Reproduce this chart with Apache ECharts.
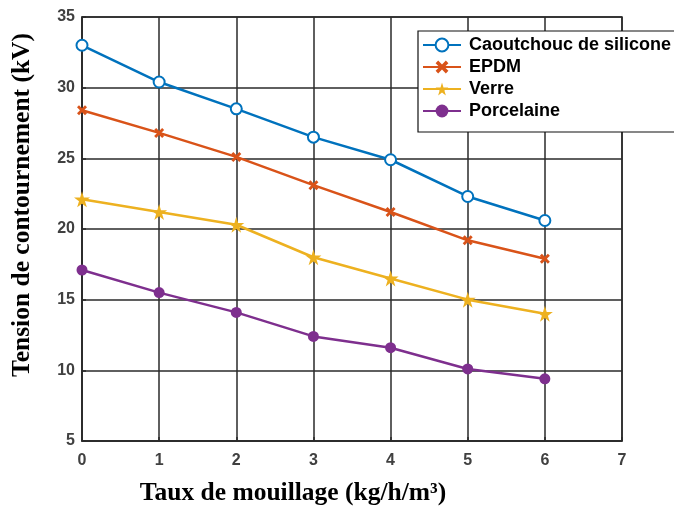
<!DOCTYPE html>
<html>
<head>
<meta charset="utf-8">
<script src="https://cdn.jsdelivr.net/npm/echarts@6/dist/echarts.min.js"></script>
<style>
  html, body { margin: 0; padding: 0; background: #fff; }
  #chart { width: 674px; height: 508px; }
</style>
</head>
<body>
<div id="chart"></div>
<script>
// Taux de mouillage (kg/h/m³)
const xValues = [0, 1, 2, 3, 4, 5, 6];
const seriesNames = ['Caoutchouc de silicone', 'EPDM', 'Verre', 'Porcelaine'];
// Tension de contournement (kV)
const silicone = [33.0, 30.4, 28.5, 26.5, 24.9, 22.3, 20.6];
const epdm = [28.4, 26.8, 25.1, 23.1, 21.2, 19.2, 17.9];
const verre = [22.1, 21.2, 20.3, 18.0, 16.5, 15.0, 14.0];
const porcelaine = [17.1, 15.5, 14.1, 12.4, 11.6, 10.1, 9.4];

const colors = ['#0072BD', '#D95319', '#EDB120', '#7E2F8E'];
const crossPath = 'path://M2,0 L5,3 L8,0 L10,2 L7,5 L10,8 L8,10 L5,7 L2,10 L0,8 L3,5 L0,2 Z';
const starPath = 'path://M50,0 L61,35 L98,35 L68,57 L79,91 L50,70 L21,91 L32,57 L2,35 L39,35 Z';

function pairs(ys) { return xValues.map((x, i) => [x, ys[i]]); }

const chart = echarts.init(document.getElementById('chart'), null, { renderer: 'canvas' });

const gridLine = { show: true, lineStyle: { color: '#2a2a2a', width: 1.5 } };
const tickFont = { color: '#404040', fontFamily: 'Liberation Sans, Arial', fontWeight: 'bold', fontSize: 16 };

const baseSeries = (name, ys, idx, symbol, size, extra) => Object.assign({
  name: name,
  type: 'line',
  data: pairs(ys),
  symbol: symbol,
  symbolSize: size,
  lineStyle: { color: colors[idx], width: 2.5 },
  itemStyle: { color: colors[idx] },
  z: 10 - idx,
  animation: false
}, extra || {});

chart.setOption({
  backgroundColor: '#fff',
  animation: false,
  grid: { left: 82, top: 17, right: 52, bottom: 67, show: true, borderColor: '#2a2a2a', borderWidth: 1.5 },
  xAxis: {
    type: 'value', min: 0, max: 7, interval: 1,
    axisLine: { show: true, lineStyle: { color: '#2a2a2a', width: 1.5 } },
    axisTick: { show: true, inside: true, length: 4, lineStyle: { color: '#2a2a2a', width: 1.5 } },
    axisLabel: Object.assign({ margin: 12 }, tickFont),
    splitLine: gridLine
  },
  yAxis: {
    type: 'value', min: 5, max: 35, interval: 5,
    axisLine: { show: true, lineStyle: { color: '#2a2a2a', width: 1.5 } },
    axisTick: { show: true, inside: true, length: 4, lineStyle: { color: '#2a2a2a', width: 1.5 } },
    axisLabel: Object.assign({ margin: 7 }, tickFont),
    splitLine: gridLine
  },
  legend: {
    data: seriesNames,
    orient: 'vertical',
    left: 418, top: 31,
    padding: [5, 60, 12, 4],
    itemGap: 4,
    itemWidth: 38, itemHeight: 16,
    backgroundColor: '#fff',
    borderColor: '#111',
    borderWidth: 1.2,
    borderRadius: 0,
    textStyle: { color: '#000', fontFamily: 'Liberation Sans, Arial', fontWeight: 'bold', fontSize: 18, lineHeight: 18, padding: [0, 0, 0, 3] }
  },
  graphic: [
    {
      type: 'text', x: 22, y: 205, rotation: Math.PI / 2,
      style: {
        text: 'Tension de contournement (kV)',
        fontFamily: 'Liberation Serif, Times New Roman', fontWeight: 'bold', fontSize: 25.5,
        fill: '#000', align: 'center', verticalAlign: 'middle'
      }
    },
    {
      type: 'text', x: 293, y: 493,
      style: {
        text: 'Taux de mouillage (kg/h/m³)',
        fontFamily: 'Liberation Serif, Times New Roman', fontWeight: 'bold', fontSize: 25.5,
        fill: '#000', align: 'center', verticalAlign: 'middle'
      }
    }
  ],
  series: [
    baseSeries(seriesNames[0], silicone, 0, 'emptyCircle', 11, { itemStyle: { color: colors[0], borderColor: colors[0], borderWidth: 2 } }),
    baseSeries(seriesNames[1], epdm, 1, crossPath, 10),
    baseSeries(seriesNames[2], verre, 2, starPath, 16),
    baseSeries(seriesNames[3], porcelaine, 3, 'circle', 11)
  ]
});
</script>
</body>
</html>
